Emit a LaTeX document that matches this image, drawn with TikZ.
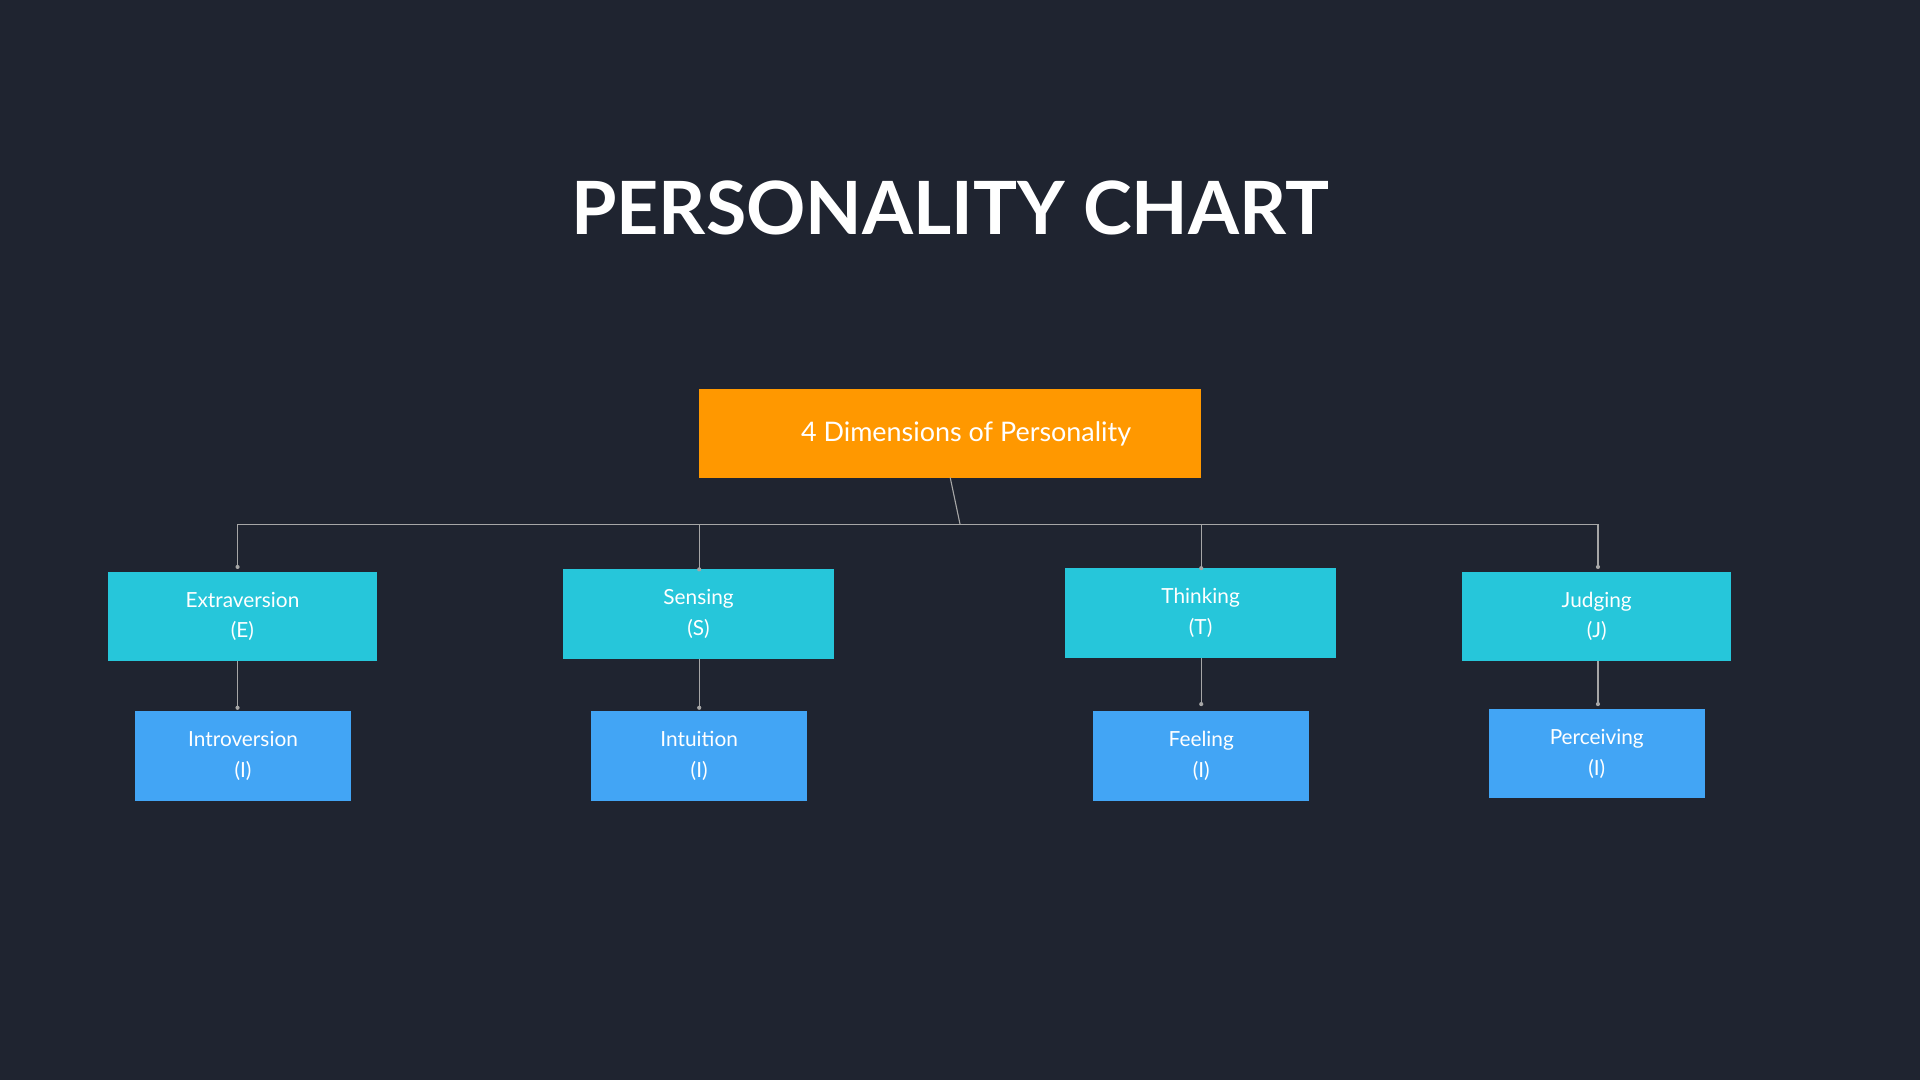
\documentclass[tikz,border=0pt]{standalone}
\usepackage{fontspec}
\setmainfont{Lato}
\begin{document}
\begin{tikzpicture}[x=1pt,y=-1pt,
  bx/.style={anchor=north west,inner sep=0,outer sep=0,text=white,align=center,font=\fontsize{17}{25}\selectfont},
  ln/.style={draw=gray!70,line width=0.9pt},
  dt/.style={fill=gray!70,circle,inner sep=1.2pt}]
\definecolor{bg}{HTML}{1F2430}
\definecolor{org}{HTML}{FF9800}
\definecolor{cy}{HTML}{26C6DA}
\definecolor{bl}{HTML}{42A5F5}
\fill[bg] (0,0) rectangle (1568,882);
\useasboundingbox (0,0) rectangle (1568,882);
\node[text=white,font=\fontsize{60}{60}\bfseries\selectfont] (title) at (776,170) {PERSONALITY CHART};
\node[bx,fill=org,minimum width=410,minimum height=72,font=\fontsize{22}{26}\selectfont] (root) at (571,318) {\hspace{26pt}4 Dimensions of Personality};
\node[bx,fill=cy,minimum width=220,minimum height=73] (e) at (88,467) {Extraversion\\(E)};
\node[bx,fill=cy,minimum width=221,minimum height=73] (s) at (460,465) {Sensing\\(S)};
\node[bx,fill=cy,minimum width=221,minimum height=73] (t) at (870,464) {Thinking\\(T)};
\node[bx,fill=cy,minimum width=220,minimum height=73] (j) at (1194,467) {Judging\\(J)};
\node[bx,fill=bl,minimum width=177,minimum height=73] (i) at (110,581) {Introversion\\(I)};
\node[bx,fill=bl,minimum width=176,minimum height=73] (n) at (483,581) {Intuition\\(I)};
\node[bx,fill=bl,minimum width=176,minimum height=73] (f) at (893,581) {Feeling\\(I)};
\node[bx,fill=bl,minimum width=176,minimum height=73] (p) at (1216,579) {Perceiving\\(I)};
\coordinate (bus) at (784,428);
\draw[ln] (root.south) -- (bus);
\draw[ln] (194,428) -- (1305,428);
\foreach \x/\y in {194/463,571/465,981/464,1305/463}{
  \draw[ln] (\x,428) -- (\x,\y); \node[dt] at (\x,\y) {};}
\draw[ln] (e.south -| 194,0) -- (194,578); \node[dt] at (194,578) {};
\draw[ln] (s.south -| 571,0) -- (571,578); \node[dt] at (571,578) {};
\draw[ln] (t.south -| 981,0) -- (981,575); \node[dt] at (981,575) {};
\draw[ln] (j.south -| 1305,0) -- (1305,575); \node[dt] at (1305,575) {};
\end{tikzpicture}
\end{document}
